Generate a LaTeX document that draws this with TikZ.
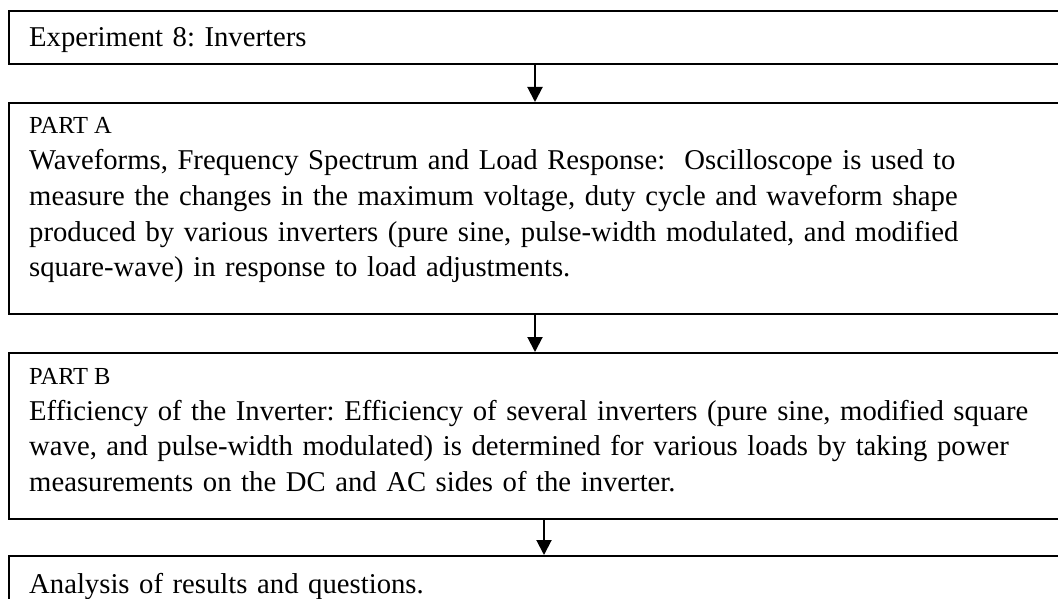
\documentclass[tikz,border=0pt]{standalone}
\usepackage{fontspec}
\setmainfont{Liberation Serif}
\frenchspacing
\usetikzlibrary{arrows.meta, positioning}
\tikzstyle{stepbox} = [rectangle, draw=black, line width=2pt, minimum width=1052pt, inner sep=0pt, anchor=north]
\tikzstyle{bodytext} = [anchor=base west, inner sep=0pt, text width=1030pt, align=left, font=\fontsize{28.7}{35.6}\selectfont]
\tikzstyle{parttext} = [anchor=base west, inner sep=0pt, font=\fontsize{24.5}{28}\selectfont]
\tikzstyle{arrow} = [line width=2pt, -{Triangle[length=15pt,width=15pt]}]

\begin{document}
\begin{tikzpicture}[x=1pt, y=1pt]

      \clip (0,0) rectangle (1058,-599);

      % Boxes
      \node (exp) [stepbox, minimum height=53pt] at (535,-10) {};
      \node (partA) [stepbox, minimum height=211pt, below=37pt of exp] {};
      \node (partB) [stepbox, minimum height=166pt, below=37pt of partA] {};
      \node (results) [stepbox, minimum height=60pt, below=35pt of partB] {};

      % Texts
      \node (expText) [bodytext] at ([xshift=21pt, yshift=-37pt]exp.north west) {Experiment 8: Inverters};
      \node (partALabel) [parttext] at ([xshift=21pt, yshift=-32pt]partA.north west) {PART A};
      \node (partAText) [bodytext] at ([xshift=21pt, yshift=-68pt]partA.north west) {Waveforms, Frequency Spectrum and Load Response:~ Oscilloscope is used to\\
        measure the changes in the maximum voltage, duty cycle and waveform shape\\
        produced by various inverters (pure sine, pulse-width modulated, and modified\\
        square-wave) in response to load adjustments.};
      \node (partBLabel) [parttext] at ([xshift=21pt, yshift=-32pt]partB.north west) {PART B};
      \node (partBText) [bodytext] at ([xshift=21pt, yshift=-68pt]partB.north west) {Efficiency of the Inverter: Efficiency of several inverters (pure sine, modified square\\
        wave, and pulse-width modulated) is determined for various loads by taking power\\
        measurements on the DC and AC sides of the inverter.};
      \node (resultsText) [bodytext] at ([xshift=21pt, yshift=-38pt]results.north west) {Analysis of results and questions.};

      % Arrows
      \draw [arrow] (exp) -- (partA);
      \draw [arrow] (partA) -- (partB);
      \draw [arrow] ([xshift=9pt]partB.south) -- ([xshift=9pt]results.north);

\end{tikzpicture}
\end{document}
